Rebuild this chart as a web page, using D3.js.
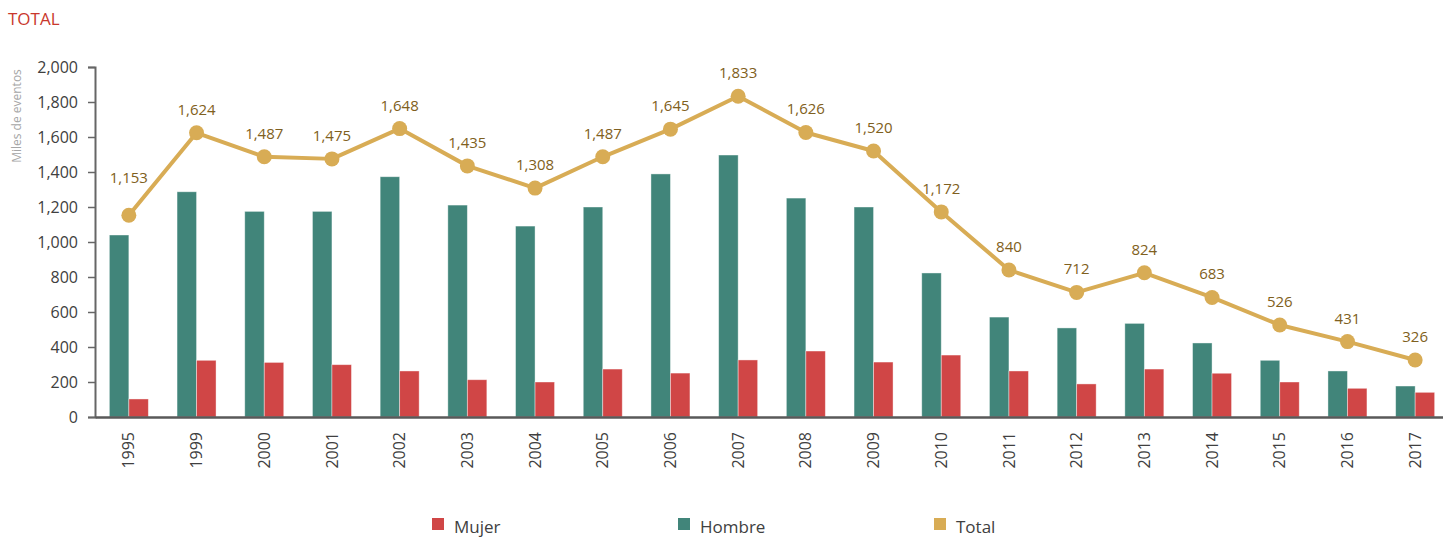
<!DOCTYPE html>
<html>
<head>
    <title>TOTAL</title>
    <meta charset="utf-8">
    <style type="text/css">
        body{
            margin:0;
            background:#fff;
        }
        svg text{
            font-family: "Open Sans", "Noto Sans", sans-serif;
        }
    </style>
</head>
<body>

<svg id="chart" width="1443" height="539"></svg>

<script src="https://cdn.jsdelivr.net/npm/d3@7"></script>
<script type="text/javascript">

var years  = ['1995','1999','2000','2001','2002','2003','2004','2005','2006','2007',
              '2008','2009','2010','2011','2012','2013','2014','2015','2016','2017'];
var hombre = [1040,1287,1175,1175,1373,1211,1091,1200,1389,1497,
              1251,1200,823,571,509,535,423,324,263,177];
var mujer  = [103,324,312,299,263,213,200,274,251,326,
              377,314,354,263,189,274,250,200,164,141];
var total  = [1153,1624,1487,1475,1648,1435,1308,1487,1645,1833,
              1626,1520,1172,840,712,824,683,526,431,326];
var yTicks = [0,200,400,600,800,1000,1200,1400,1600,1800,2000];
var legendItems = ['Mujer','Hombre','Total'];

var colors = {
    Hombre: '#41857A',
    Mujer:  '#D04646',
    Total:  '#D8AC55'
};

var svg = d3.select('#chart');

var x = d3.scaleBand()
    .domain(years)
    .range([95, 1449])
    .paddingInner(0.424)
    .paddingOuter(0.212);

var x1 = d3.scaleBand()
    .domain(['Hombre','Mujer'])
    .range([0, x.bandwidth()]);

var y = d3.scaleLinear()
    .domain([0, 2000])
    .range([417, 67]);

// title
svg.append('text')
    .attr('x', 8)
    .attr('y', 25)
    .attr('fill', '#C9372C')
    .style('font-size', '17px')
    .text('TOTAL');

// y axis label
svg.append('text')
    .attr('transform', 'translate(21,116) rotate(-90)')
    .attr('text-anchor', 'middle')
    .attr('fill', '#A6A6A6')
    .style('font-size', '12px')
    .text('Miles de eventos');

// y axis
var yAxis = svg.append('g')
    .attr('transform', 'translate(95,0)')
    .call(d3.axisLeft(y).tickValues(yTicks).tickSize(7).tickSizeOuter(7).tickPadding(10).tickFormat(d3.format(',')));
yAxis.select('.domain').attr('stroke', '#666').attr('stroke-width', 2);
yAxis.selectAll('.tick line').attr('stroke', '#666').attr('stroke-width', 1.5);
yAxis.selectAll('.tick text')
    .attr('fill', '#404040')
    .style('font-size', '16px');

// bars
var rows = years.map(function(yr, i){
    return {year: yr, Hombre: hombre[i], Mujer: mujer[i], Total: total[i]};
});

var groups = svg.append('g').selectAll('g')
    .data(rows)
    .join('g')
    .attr('transform', function(d){ return 'translate(' + x(d.year) + ',0)'; });

groups.selectAll('rect')
    .data(function(d){ return ['Hombre','Mujer'].map(function(k){ return {key:k, value:d[k]}; }); })
    .join('rect')
    .attr('x', function(d){ return x1(d.key); })
    .attr('y', function(d){ return y(d.value); })
    .attr('width', x1.bandwidth())
    .attr('height', function(d){ return y(0) - y(d.value); })
    .attr('fill', function(d){ return colors[d.key]; })
    .attr('stroke', 'rgba(255,255,255,0.5)')
    .attr('stroke-width', 0.8);

// x axis
var xAxis = svg.append('g')
    .attr('transform', 'translate(0,417)')
    .call(d3.axisBottom(x).tickSize(0).tickSizeOuter(0).tickPadding(0));
xAxis.select('.domain').attr('stroke', '#595959').attr('stroke-width', 2.5);
xAxis.selectAll('.tick text')
    .attr('fill', '#404040')
    .style('font-size', '16px')
    .attr('text-anchor', 'end')
    .attr('dy', '0.35em')
    .attr('transform', 'translate(0,15) rotate(-90)');

// total line
var cx = function(d){ return x(d.year) + x.bandwidth()/2; };

svg.append('path')
    .datum(rows)
    .attr('fill', 'none')
    .attr('stroke', colors.Total)
    .attr('stroke-width', 4)
    .attr('stroke-linejoin', 'round')
    .attr('d', d3.line().x(cx).y(function(d){ return y(d.Total); }));

svg.append('g').selectAll('circle')
    .data(rows)
    .join('circle')
    .attr('cx', cx)
    .attr('cy', function(d){ return y(d.Total); })
    .attr('r', 7.5)
    .attr('fill', colors.Total);

svg.append('g').selectAll('text')
    .data(rows)
    .join('text')
    .attr('x', cx)
    .attr('y', function(d, i){ return y(d.Total) - (i == 0 ? 32 : 18); })
    .attr('text-anchor', 'middle')
    .attr('fill', '#7F6020')
    .style('font-size', '15px')
    .text(function(d){ return d3.format(',')(d.Total); });

// legend
var legendX = [432, 678, 934];
var legend = svg.append('g').selectAll('g')
    .data(legendItems)
    .join('g')
    .attr('transform', function(d, i){ return 'translate(' + legendX[i] + ',518)'; });

legend.append('rect')
    .attr('width', 12)
    .attr('height', 12)
    .attr('fill', function(d){ return colors[d]; });

legend.append('text')
    .attr('x', 22)
    .attr('y', 15)
    .attr('fill', '#404040')
    .style('font-size', '17px')
    .text(function(d){ return d; });

</script>

</body>
</html>
